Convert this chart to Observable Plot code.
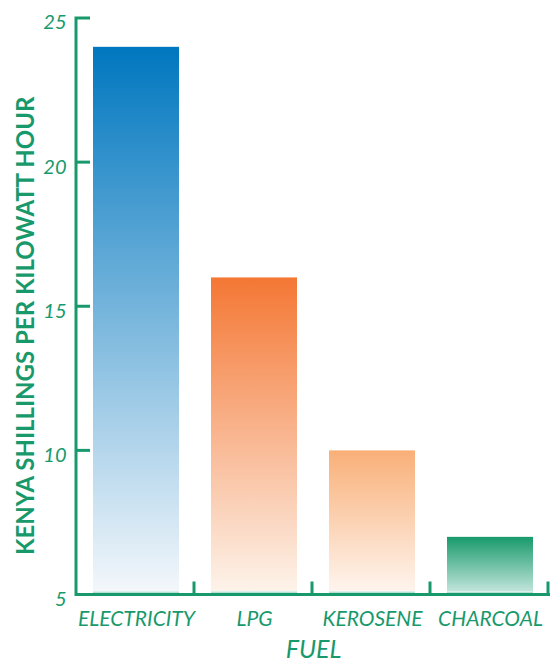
<!DOCTYPE html>
<html><head><meta charset="utf-8">
<script src="https://cdn.jsdelivr.net/npm/d3@7"></script>
<script src="https://cdn.jsdelivr.net/npm/@observablehq/plot@0.6"></script>
<style>
body{margin:0;background:#fff;}
</style></head><body>
<svg width="0" height="0" style="position:absolute" id="defs-holder"></svg>
<div id="chart"></div>
<script>
const fuels = ["ELECTRICITY", "LPG", "KEROSENE", "CHARCOAL"];
const costs = [24, 16, 10, 7];
const yTicks = [5, 10, 15, 20, 25];
const yLabel = "KENYA SHILLINGS PER KILOWATT HOUR";
const xLabel = "FUEL";
const topColors = ["#0077bf", "#f47734", "#f9af78", "#189a6b"];
const bottomColors = ["#f3f7fb", "#fdf3ea", "#fef5ee", "#c0e4da"];
const green = "#18996b";

// gradients
const defs = d3.select("#defs-holder").append("defs");
fuels.forEach((f, i) => {
  const lg = defs.append("linearGradient").attr("id", "g" + i)
    .attr("x1", 0).attr("y1", 0).attr("x2", 0).attr("y2", 1);
  lg.append("stop").attr("offset", "0%").attr("stop-color", topColors[i]);
  lg.append("stop").attr("offset", "100%").attr("stop-color", bottomColors[i]);
});

const data = fuels.map((f, i) => ({fuel: f, cost: costs[i], grad: `url(#g${i})`}));

const chart = Plot.plot({
  width: 551, height: 662,
  marginTop: 18, marginBottom: 67.5, marginLeft: 76, marginRight: 1,
  style: {fontFamily: "Lato, sans-serif", color: green, background: "#fff", overflow: "visible"},
  x: {domain: fuels, paddingInner: 0.274, paddingOuter: 0.137, label: null},
  y: {domain: [5, 25], label: null},
  color: {type: "identity"},
  marks: [
    Plot.barY(data, {x: "fuel", y1: () => 5, y2: "cost", fill: "grad", insetBottom: 3.5}),
    Plot.tickY(data, {x: "fuel", y: () => 5, stroke: "#b5e0d3", strokeWidth: 2, dy: -2.5}),
    Plot.axisY(yTicks, {tickSize: 0, tickPadding: 10, fontSize: 20, fontStyle: "italic", dy: 4.5, label: null, fill: green}),
    Plot.axisX({tickSize: 0, tickPadding: 16, fontSize: 21, fontStyle: "italic", label: null, fill: green}),
    Plot.text([yLabel], {frameAnchor: "left", textAnchor: "middle", lineAnchor: "middle", rotate: -90, dx: -50, dy: 19, fontSize: 24, fontWeight: "bold", fill: green}),
    Plot.text([xLabel], {frameAnchor: "bottom", textAnchor: "middle", lineAnchor: "middle", dy: 55, fontSize: 25, fontStyle: "italic", fill: green})
  ]
});

const xs = chart.scale("x"), ys = chart.scale("y");
const x0 = xs.range[0], x1 = xs.range[1];
const yb = ys.apply(5), yt = ys.apply(25);
const g = d3.select(chart).append("g")
  .attr("stroke", green).attr("stroke-width", 3).attr("fill", "none");
g.append("path").attr("d", `M${x0 + 14},${yt}H${x0}V${yb}H${x1}`).attr("stroke-linejoin", "miter");
yTicks.filter(t => t !== 5 && t !== 25).forEach(t => {
  g.append("line").attr("x1", x0).attr("x2", x0 + 14).attr("y1", ys.apply(t)).attr("y2", ys.apply(t));
});
fuels.forEach((f, k) => {
  const xb = x0 + (k + 1) * xs.step;
  g.append("line").attr("x1", xb).attr("x2", xb).attr("y1", yb).attr("y2", yb - 13);
});

document.getElementById("chart").appendChild(chart);
</script>
</body></html>
